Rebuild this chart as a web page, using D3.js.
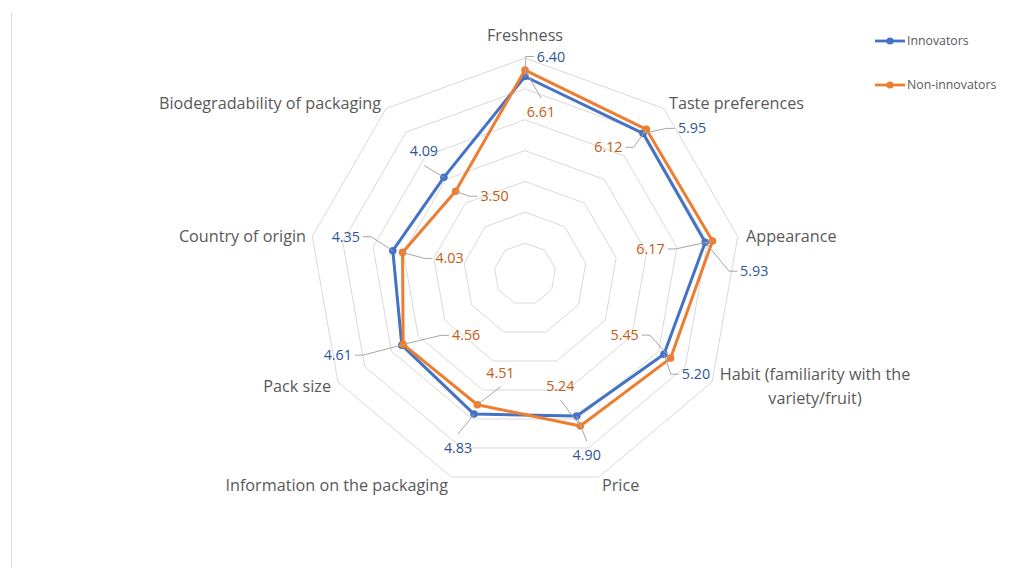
<!DOCTYPE html>
<html>
<head>
<meta charset="utf-8">
<script src="https://cdn.jsdelivr.net/npm/d3@7"></script>
<style>
  html, body { margin: 0; padding: 0; background: #ffffff; }
  svg { display: block; }
  text { font-family: "Open Sans", "Noto Sans", sans-serif; }
</style>
</head>
<body>
<svg id="chart" width="1022" height="568"></svg>
<script>
// Attribute categories, clockwise from the top
const categories = [
  "Freshness",
  "Taste preferences",
  "Appearance",
  "Habit (familiarity with the variety/fruit)",
  "Price",
  "Information on the packaging",
  "Pack size",
  "Country of origin",
  "Biodegradability of packaging"
];

// Mean scores per group
const innovators    = [6.40, 5.95, 5.93, 5.20, 4.90, 4.83, 4.61, 4.35, 4.09];
const nonInnovators = [6.61, 6.12, 6.17, 5.45, 5.24, 4.51, 4.56, 4.03, 3.50];

const seriesNames = ["Innovators", "Non-innovators"];

// Radial scale ticks (rings)
const ringTicks = [1, 2, 3, 4, 5, 6, 7];

// ---- layout & style ----
const W = 1022, H = 568;
const cx = 525, cy = 274, outerR = 216;
const colors = ["#4472C4", "#ED7D31"];
const labelColors = ["#2F5597", "#C55A11"];

// label placement: offset of each value label's centre from its point
const labelOffsets = [
  [[26, -20], [49, -5], [49, 29], [32, 20], [10, 39], [-16, 34], [-64, 10], [-47, -14], [-20, -26]],
  [[16, 42], [-38, 18], [-62, 8], [-46, -23], [-20, -40], [23, -32], [63, -9], [47, 6], [39, 5]]
];

// category label anchor points and alignment
const catLabelPos = [
  { x: 525, y: 35, anchor: "middle" },
  { x: 669, y: 103, anchor: "start" },
  { x: 746, y: 236, anchor: "start" },
  { x: 815, y: 374, anchor: "middle", lines: ["Habit (familiarity with the", "variety/fruit)"] },
  { x: 602, y: 485, anchor: "start" },
  { x: 448, y: 485, anchor: "end" },
  { x: 331, y: 386, anchor: "end" },
  { x: 306, y: 236, anchor: "end" },
  { x: 381, y: 103, anchor: "end" }
];

const svg = d3.select("#chart");

// thin frame line on the left
svg.append("line")
  .attr("x1", 11.5).attr("x2", 11.5)
  .attr("y1", 13).attr("y2", H)
  .attr("stroke", "#d9d9d9").attr("stroke-width", 1);

const n = categories.length;
const angle = d3.scaleLinear().domain([0, n]).range([0, 2 * Math.PI]);
const r = d3.scaleLinear().domain([0, 7]).range([0, outerR]);

const g = svg.append("g").attr("transform", `translate(${cx},${cy})`);

const pt = (i, v) => [r(v) * Math.sin(angle(i)), -r(v) * Math.cos(angle(i))];

// rings
g.selectAll("path.ring")
  .data(ringTicks)
  .join("path")
  .attr("class", "ring")
  .attr("d", t => d3.line()(d3.range(n).map(i => pt(i, t))) + "Z")
  .attr("fill", "none")
  .attr("stroke", "#d9d9d9")
  .attr("stroke-width", 1);

// category labels
catLabelPos.forEach((p, i) => {
  const lines = p.lines || [categories[i]];
  const t = svg.append("text")
    .attr("x", p.x).attr("y", p.y)
    .attr("text-anchor", p.anchor)
    .attr("fill", "#595959")
    .attr("font-size", 16.2);
  lines.forEach((ln, k) => {
    t.append("tspan").attr("x", p.x).attr("dy", k === 0 ? "0.35em" : "1.48em").text(ln);
  });
});

const allSeries = [innovators, nonInnovators];

// value labels and leader lines
const labelLayer = svg.append("g");
allSeries.forEach((vals, s) => {
  vals.forEach((v, i) => {
    const [px, py] = pt(i, v);
    const X = cx + px, Y = cy + py;
    const [dx, dy] = labelOffsets[s][i];
    const tx = X + dx, ty = Y + dy;
    const txt = labelLayer.append("text")
      .attr("x", tx).attr("y", ty)
      .attr("dy", "0.35em")
      .attr("text-anchor", "middle")
      .attr("fill", labelColors[s])
      .attr("font-size", 14.3)
      .text(v.toFixed(2));
    const bb = txt.node().getBBox();
    const hw = bb.width / 2, hh = 8;
    let pts;
    if (Math.abs(dx) > hw + 10) {
      // side leader with a short horizontal tail
      const side = dx > 0 ? -1 : 1;
      const edge = tx + side * hw;
      pts = [[X, Y], [edge + side * 11, ty], [edge + side * 3, ty]];
    } else {
      // leader towards the top or bottom of the label
      const side = dy > 0 ? -1 : 1;
      pts = [[X, Y], [tx, ty + side * (hh + 6)]];
    }
    labelLayer.insert("path", "text")
      .attr("d", d3.line()(pts))
      .attr("fill", "none")
      .attr("stroke", "#a6a6a6")
      .attr("stroke-width", 1);
  });
});

// series polygons with markers
allSeries.forEach((vals, s) => {
  const coords = vals.map((v, i) => pt(i, v));
  g.append("path")
    .attr("d", d3.line()(coords) + "Z")
    .attr("fill", "none")
    .attr("stroke", colors[s])
    .attr("stroke-width", 3)
    .attr("stroke-linejoin", "round");
  g.selectAll(null)
    .data(coords)
    .join("circle")
    .attr("cx", d => d[0]).attr("cy", d => d[1])
    .attr("r", 3.8)
    .attr("fill", colors[s]);
});

// legend
const legend = svg.append("g");
seriesNames.forEach((name, s) => {
  const y = 41 + s * 44;
  legend.append("line")
    .attr("x1", 875).attr("x2", 905).attr("y1", y).attr("y2", y)
    .attr("stroke", colors[s]).attr("stroke-width", 2.8);
  legend.append("circle").attr("cx", 890).attr("cy", y).attr("r", 3.6).attr("fill", colors[s]);
  legend.append("text")
    .attr("x", 907).attr("y", y).attr("dy", "0.35em")
    .attr("fill", "#595959").attr("font-size", 12.3)
    .text(name);
});
</script>
</body>
</html>
